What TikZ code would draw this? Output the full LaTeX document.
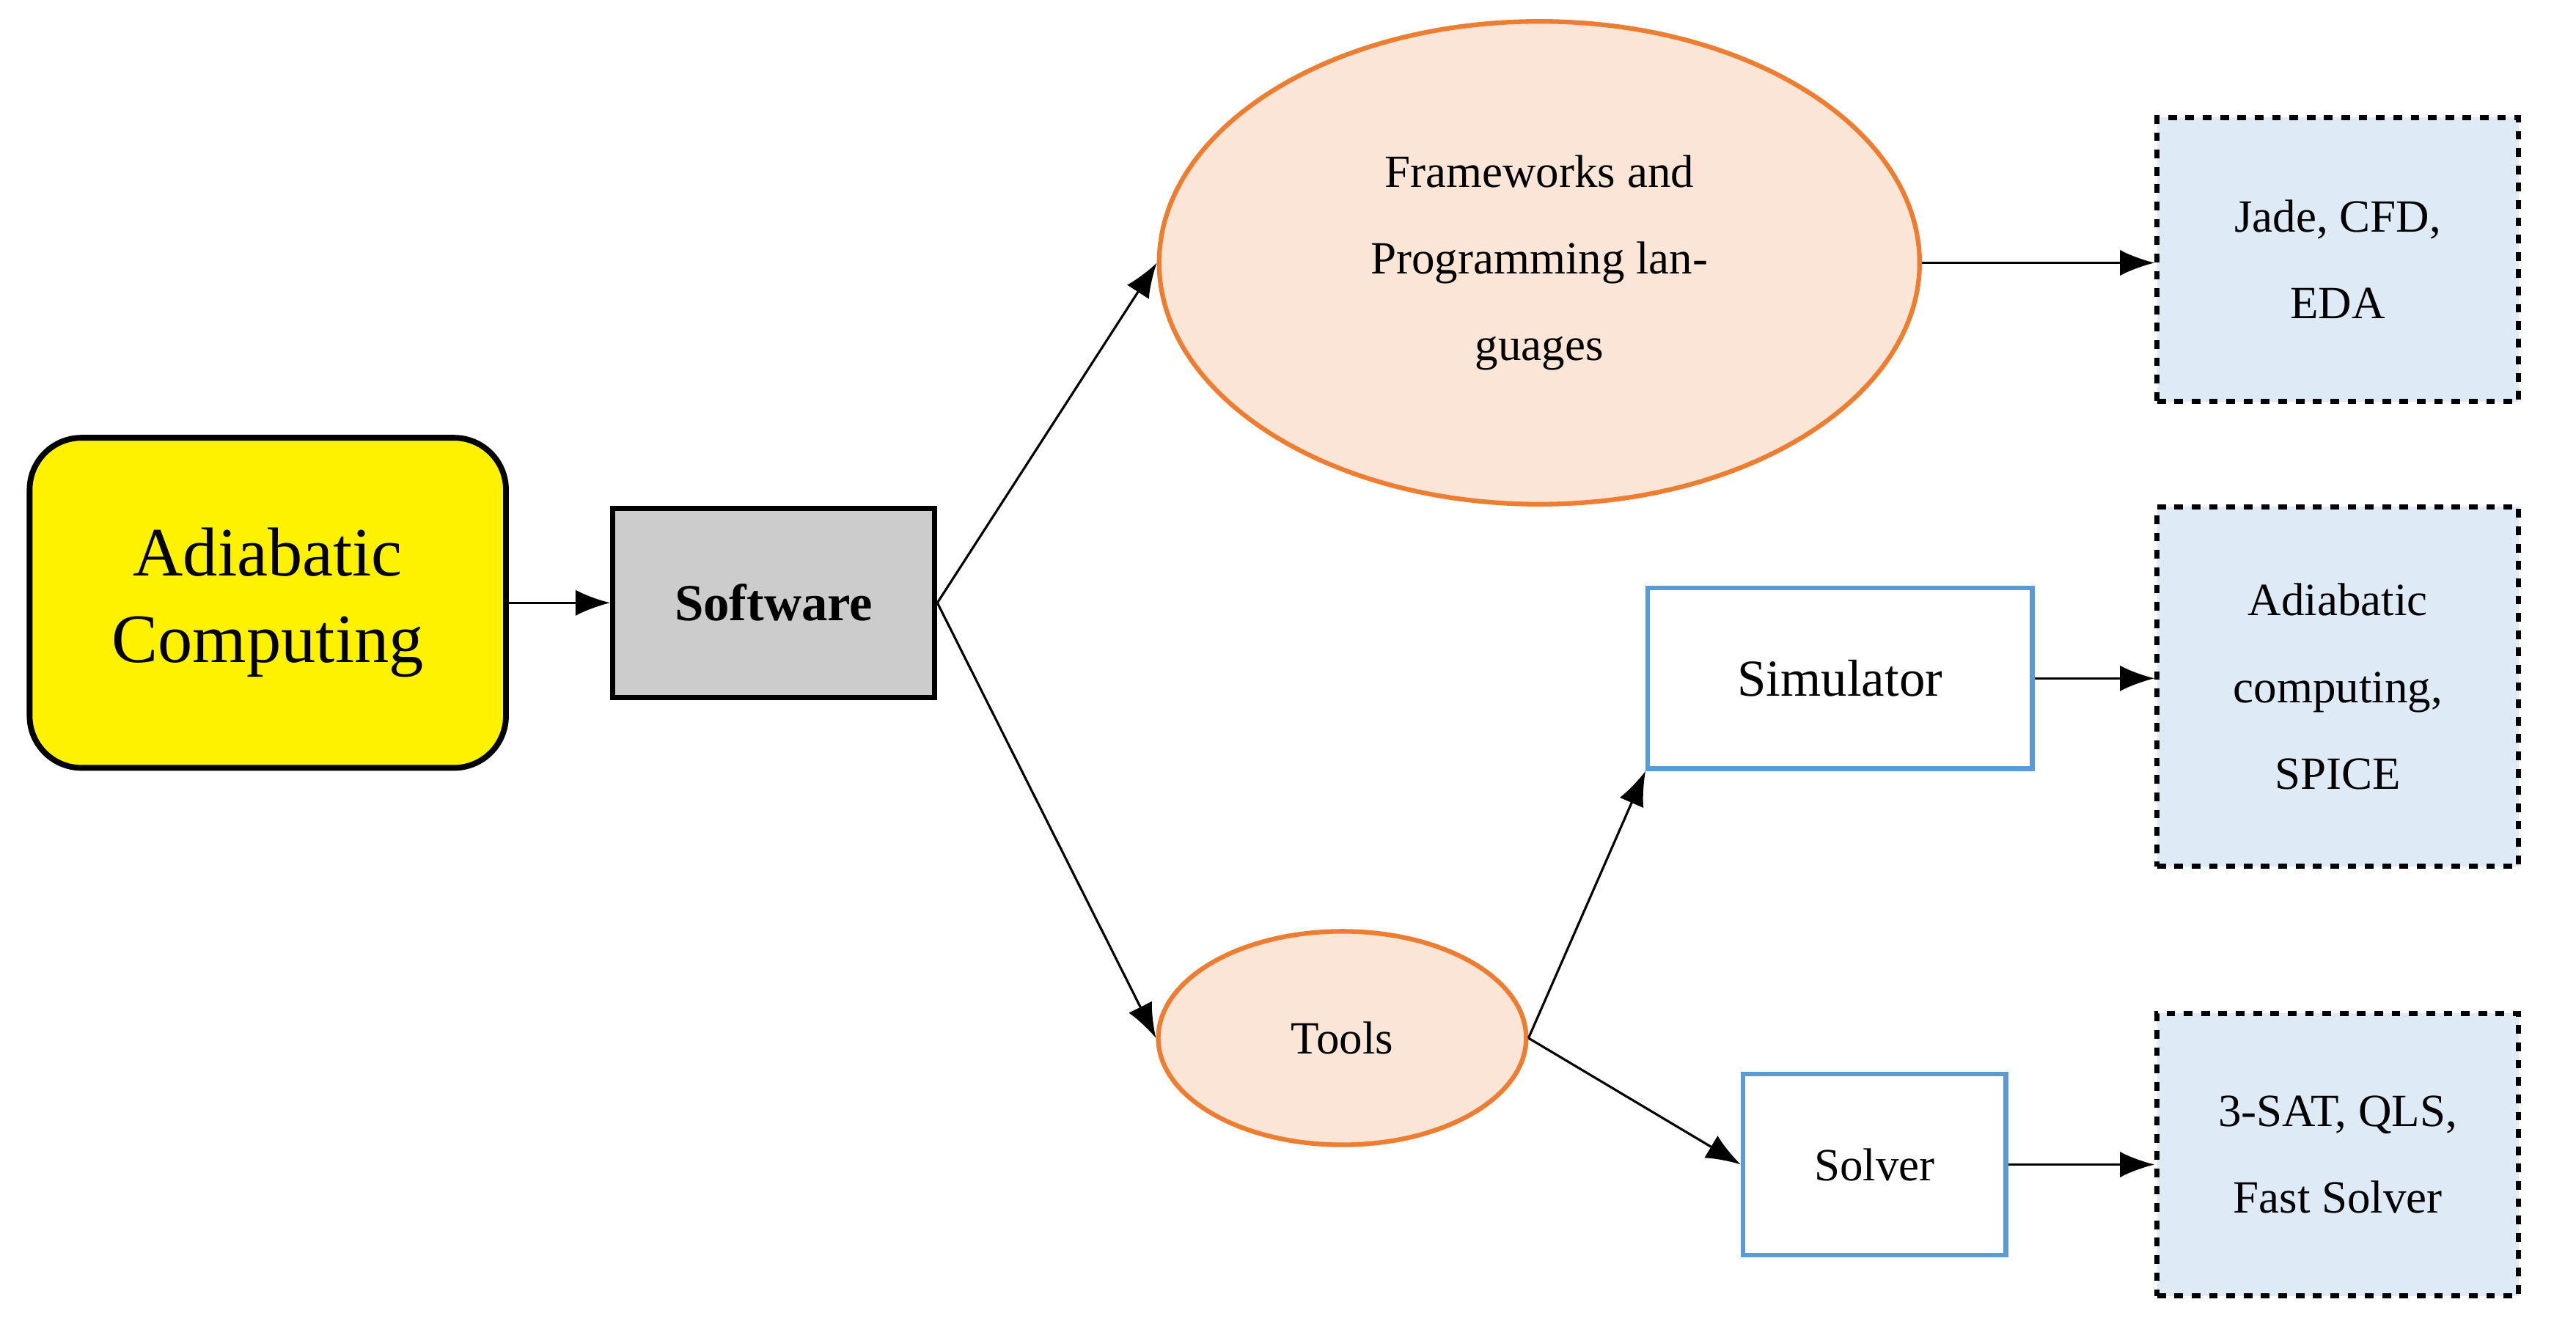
\documentclass[tikz,border=0pt]{standalone}
\usepackage{fontspec}
\setmainfont{Liberation Serif}
\usetikzlibrary{arrows.meta,shapes.geometric}
\definecolor{peach}{HTML}{FBE5D6}
\definecolor{edgeorange}{HTML}{ED7D31}
\definecolor{paleblue}{HTML}{DEEBF7}
\definecolor{edgeblue}{HTML}{5B9BD5}
\tikzset{
  oval/.style={ellipse, draw=edgeorange, fill=peach, line width=1.6pt, align=center, font=\fontsize{16}{30}\selectfont},
  tool/.style={draw=edgeblue, line width=1.6pt, fill=white, align=center, font=\fontsize{18}{30}\selectfont},
  item/.style={draw=black, dashed, line width=1.8pt, fill=paleblue, minimum width=4.4cm, align=center, font=\fontsize{16}{30}\selectfont},
  link/.style={-{Latex[length=12pt,width=9pt]}, line width=0.8pt}
}
\begin{document}
\begin{tikzpicture}[x=0.02cm, y=-0.02cm]
\useasboundingbox (0,0) rectangle (1568,806);
\node (adiabatic) [draw, line width=2pt, rounded corners=18pt, fill=yellow, minimum width=5.8cm, minimum height=4.02cm, align=center, font=\fontsize{24}{30}\selectfont] at (163,367) {Adiabatic\\Computing};
\node (software) [draw, line width=1.8pt, fill=gray!40, minimum width=3.92cm, minimum height=2.3cm, font=\fontsize{18}{22}\selectfont\bfseries] at (471,367) {Software};
\node (frameworks) [oval, minimum width=9.26cm, minimum height=5.88cm] at (937,160) {Frameworks and\\Programming lan-\\guages};
\node (tools) [oval, minimum width=4.48cm, minimum height=2.6cm] at (817,632) {Tools};
\node (simulator) [tool, minimum width=4.68cm, minimum height=2.2cm] at (1120,413) {Simulator};
\node (solver) [tool, minimum width=3.2cm, minimum height=2.2cm, font=\fontsize{16}{30}\selectfont] at (1141,709) {Solver};
\node (jade) [item, minimum height=3.46cm] at (1423,158) {Jade, CFD,\\EDA};
\node (spice) [item, minimum height=4.38cm] at (1423,418) {Adiabatic\\computing,\\SPICE};
\node (sat) [item, minimum height=3.44cm] at (1423,703) {3-SAT, QLS,\\Fast Solver};
\draw[link] (adiabatic) -- (software);
\draw[link] (software.east) -- (frameworks.west);
\draw[link] (software.east) -- (tools.west);
\draw[link] (tools.east) -- (simulator.south west);
\draw[link] (tools.east) -- (solver.west);
\draw[link] (frameworks.east) -- (jade.west |- frameworks.east);
\draw[link] (simulator) -- (spice.west |- simulator);
\draw[link] (solver) -- (sat.west |- solver);
\end{tikzpicture}
\end{document}
